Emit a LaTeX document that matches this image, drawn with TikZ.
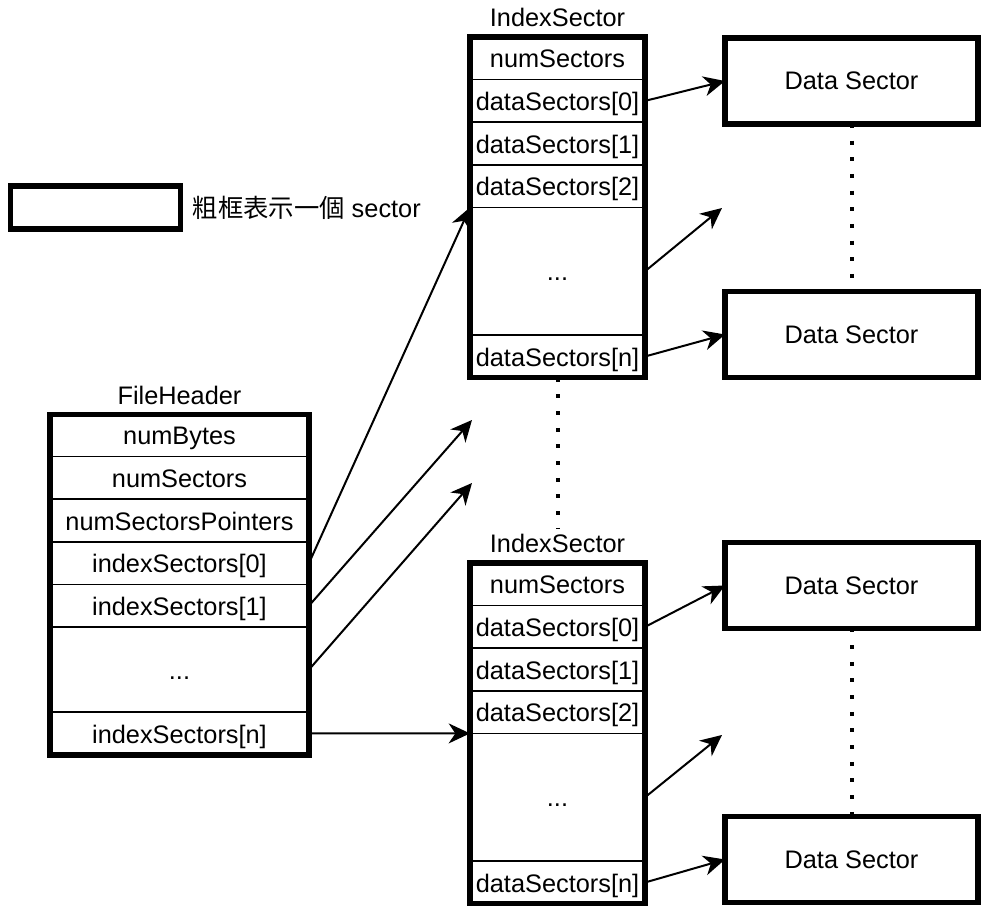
\documentclass[tikz,border=0pt]{standalone}
\usepackage{fontspec}
\setmainfont{Liberation Sans}
\newfontfamily\cjk{Noto Sans CJK TC}
\usetikzlibrary{arrows.meta}

\begin{document}
\begin{tikzpicture}
            [x=0.75pt, y=-0.75pt,
            every node/.style={font=\fontsize{19}{22}\selectfont},
            cell/.style={draw, line width=1.2pt, minimum height=31.95pt, inner sep=0pt, outer sep=0pt,
                text height=16.5pt, text depth=2pt},
            fhcell/.style={cell, minimum width=194.25pt},
            iscell/.style={cell, minimum width=131.25pt},
            frame/.style={draw, line width=4pt, inner sep=0pt, outer sep=0pt},
            datasec/.style={frame, minimum width=189.75pt, minimum height=64.5pt},
            ptr/.style={-{Stealth[length=16pt, width=15pt, inset=5pt]}, line width=1.5pt},
            more/.style={line width=3pt, dash pattern=on 3pt off 9.5pt}]

            \useasboundingbox (0,0) rectangle (990,912);

            % legend
            \node[frame, minimum width=127.5pt, minimum height=32.25pt] (legend) at (95.25,207.5) {};
            \node[anchor=west] (legendtxt) at (188,208) {{\cjk 粗框表示一個} sector};

            % FileHeader
            \node (fhlabel) at (179.5,395) {FileHeader};
            \node[fhcell] (fh-bytes) at (179.5,435.3) {numBytes};
            \node[fhcell] (fh-secs) at (179.5,477.9) {numSectors};
            \node[fhcell] (fh-ptrs) at (179.5,520.5) {numSectorsPointers};
            \node[fhcell] (fh-idx0) at (179.5,563.1) {indexSectors[0]};
            \node[fhcell] (fh-idx1) at (179.5,605.7) {indexSectors[1]};
            \node[fhcell, minimum height=63.9pt] (fh-dots) at (179.5,669.6) {...};
            \node[fhcell] (fh-idxn) at (179.5,733.5) {indexSectors[n]};
            \node[frame, minimum width=194.25pt, minimum height=255.6pt] (fh) at (179.5,584.7) {};

            % IndexSector (top)
            \node (isalabel) at (557.5,17) {IndexSector};
            \node[iscell] (isa-num) at (557.5,58.3) {numSectors};
            \node[iscell] (isa-d0) at (557.5,100.9) {dataSectors[0]};
            \node[iscell] (isa-d1) at (557.5,143.5) {dataSectors[1]};
            \node[iscell] (isa-d2) at (557.5,186.1) {dataSectors[2]};
            \node[iscell, minimum height=95.85pt] (isa-dots) at (557.5,271.3) {...};
            \node[iscell] (isa-dn) at (557.5,356.5) {dataSectors[n]};
            \node[frame, minimum width=131.25pt, minimum height=255.6pt] (isa) at (557.5,377.8-170.4) {};

            % IndexSector (bottom)
            \node (isblabel) at (557.5,543) {IndexSector};
            \node[iscell] (isb-num) at (557.5,584.3) {numSectors};
            \node[iscell] (isb-d0) at (557.5,626.9) {dataSectors[0]};
            \node[iscell] (isb-d1) at (557.5,669.5) {dataSectors[1]};
            \node[iscell] (isb-d2) at (557.5,712.1) {dataSectors[2]};
            \node[iscell, minimum height=95.85pt] (isb-dots) at (557.5,797.3) {...};
            \node[iscell] (isb-dn) at (557.5,882.5) {dataSectors[n]};
            \node[frame, minimum width=131.25pt, minimum height=255.6pt] (isb) at (557.5,903.8-170.4) {};

            % data sectors
            \node[datasec] (ds1) at (851.5,81) {Data Sector};
            \node[datasec] (ds2) at (851.5,334.5) {Data Sector};
            \node[datasec] (ds3) at (851.5,585.5) {Data Sector};
            \node[datasec] (ds4) at (851.5,859.5) {Data Sector};

            \coordinate (freea) at (722,208);
            \coordinate (freeb) at (722,735);
            \coordinate (freec) at (472,420);
            \coordinate (freed) at (472,483);

            \draw[more] (ds1.south) -- (ds2.north);
            \draw[more] (ds3.south) -- (ds4.north);
            \draw[more] (isa.south) -- (isblabel.north);

            \draw[ptr] (isa-d0.east) -- (ds1.west);
            \draw[ptr] (isa-dots.east) -- (freea);
            \draw[ptr] (isa-dn.east) -- (ds2.west);
            \draw[ptr] (isb-d0.east) -- (ds3.west);
            \draw[ptr] (isb-dots.east) -- (freeb);
            \draw[ptr] (isb-dn.east) -- (ds4.west);

            \draw[ptr] (fh-idx0.east) -- (isa-dots.north west);
            \draw[ptr] (fh-idx1.east) -- (freec);
            \draw[ptr] (fh-dots.east) -- (freed);
            \draw[ptr] (fh-idxn.east) -- (isb-dots.north west);

        \end{tikzpicture}
\end{document}
